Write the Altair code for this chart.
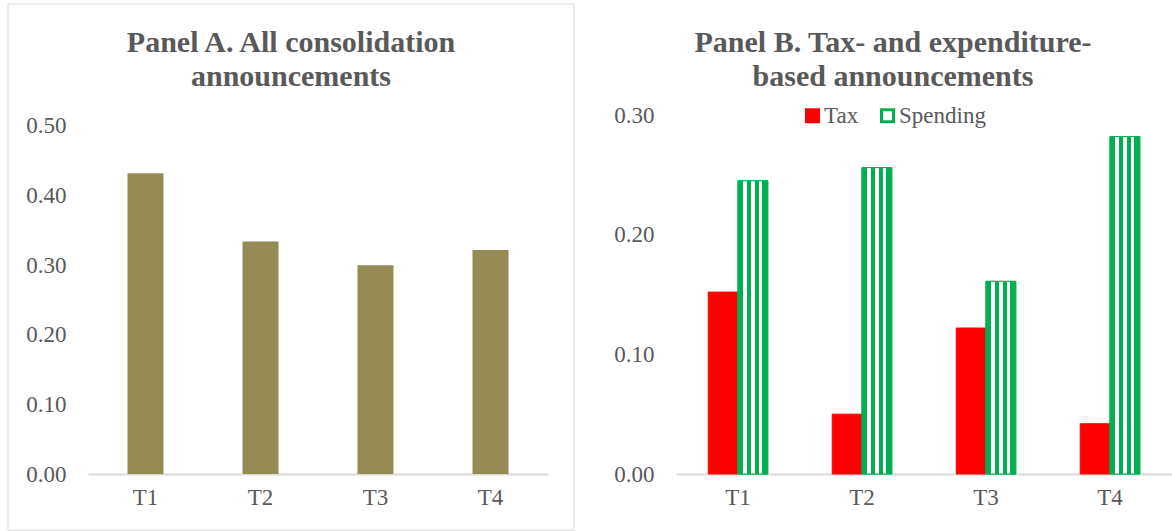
import altair as alt
import pandas as pd

# Quarters after the announcement
periods = ["T1", "T2", "T3", "T4"]

# Panel A: all consolidation announcements
all_announcements = [0.432, 0.334, 0.300, 0.322]

# Panel B: tax- vs expenditure-based announcements
series = ["Tax", "Spending"]
tax_values = [0.152, 0.050, 0.122, 0.042]
spending_values = [0.245, 0.256, 0.161, 0.282]

FONT = "Liberation Serif"
TEXT_GREY = "#595959"
AXIS_GREY = "#d9d9d9"
OLIVE = "#948a54"
RED = "#ff0000"
GREEN = "#00b050"

PLOT_H = 359
A_W = 460
B_W = 496

df_a = pd.DataFrame({"period": periods, "value": all_announcements})
df_b = pd.DataFrame(
    {
        "period": periods * 2,
        "series": ["Tax"] * len(periods) + ["Spending"] * len(periods),
        "value": tax_values + spending_values,
    }
)
one_row = pd.DataFrame({"k": [0]})

x_axis = alt.Axis(
    title=None,
    labelAngle=0,
    labelFont=FONT,
    labelFontSize=23,
    labelColor=TEXT_GREY,
    labelPadding=12,
    ticks=False,
    tickSize=0,
    domain=True,
    domainColor=AXIS_GREY,
    domainWidth=2,
    grid=False,
)


def y_axis(tick_values):
    return alt.Axis(
        title=None,
        values=tick_values,
        format=".2f",
        labelFont=FONT,
        labelFontSize=23,
        labelColor=TEXT_GREY,
        labelPadding=22,
        labelFlush=False,
        labelOverlap=False,
        ticks=False,
        tickSize=0,
        domain=False,
        grid=False,
    )


def title_text(lines, cx):
    return (
        alt.Chart(one_row)
        .mark_text(
            text=lines,
            font=FONT,
            fontSize=30,
            fontWeight="bold",
            color=TEXT_GREY,
            align="center",
            baseline="alphabetic",
            lineHeight=34,
        )
        .encode(x=alt.value(cx), y=alt.value(-63))
    )


# ---- Panel A ----
a_bars = (
    alt.Chart(df_a)
    .mark_bar(color=OLIVE)
    .encode(
        x=alt.X(
            "period:N",
            sort=periods,
            scale=alt.Scale(paddingInner=0.687, paddingOuter=0.3435),
            axis=x_axis,
        ),
        y=alt.Y(
            "value:Q",
            scale=alt.Scale(domain=[0, 0.5158], nice=False),
            axis=y_axis([0, 0.1, 0.2, 0.3, 0.4, 0.5]),
        ),
    )
)

a_frame = (
    alt.Chart(one_row)
    .mark_rect(fillOpacity=0, stroke=AXIS_GREY, strokeWidth=1)
    .encode(
        x=alt.value(-80),
        x2=alt.value(486),
        y=alt.value(-111),
        y2=alt.value(415),
    )
)

panel_a = alt.layer(
    a_frame,
    a_bars,
    title_text(["Panel A. All consolidation", "announcements"], 203),
).properties(width=A_W, height=PLOT_H)

# ---- Panel B ----
stripes = {
    "gradient": "linear",
    "x1": 0,
    "x2": 1,
    "y1": 0,
    "y2": 0,
    "stops": [
        {"offset": 0.0, "color": GREEN},
        {"offset": 0.175, "color": GREEN},
        {"offset": 0.175, "color": "#ffffff"},
        {"offset": 0.31, "color": "#ffffff"},
        {"offset": 0.31, "color": GREEN},
        {"offset": 0.43, "color": GREEN},
        {"offset": 0.43, "color": "#ffffff"},
        {"offset": 0.57, "color": "#ffffff"},
        {"offset": 0.57, "color": GREEN},
        {"offset": 0.69, "color": GREEN},
        {"offset": 0.69, "color": "#ffffff"},
        {"offset": 0.81, "color": "#ffffff"},
        {"offset": 0.81, "color": GREEN},
        {"offset": 1.0, "color": GREEN},
    ],
}

legend_b = alt.Legend(
    title=None,
    orient="none",
    legendX=125,
    legendY=-11,
    direction="horizontal",
    symbolType="square",
    symbolSize=144,
    symbolStrokeWidth=3,
    labelFont=FONT,
    labelFontSize=23,
    labelColor=TEXT_GREY,
    labelOffset=0,
    columnPadding=16,
    padding=0,
)

b_base = alt.Chart(df_b).encode(
    x=alt.X(
        "period:N",
        sort=periods,
        scale=alt.Scale(paddingInner=0.52, paddingOuter=0.26),
        axis=x_axis,
    ),
    xOffset=alt.XOffset(
        "series:N", sort=series, scale=alt.Scale(paddingInner=0, paddingOuter=0)
    ),
    y=alt.Y(
        "value:Q",
        scale=alt.Scale(domain=[0, 0.3], nice=False),
        axis=y_axis([0, 0.1, 0.2, 0.3]),
    ),
)

b_bars = b_base.mark_bar(strokeWidth=1).encode(
    fill=alt.Fill(
        "series:N",
        sort=series,
        scale=alt.Scale(domain=series, range=[RED, "#ffffff"]),
        legend=legend_b,
    ),
    stroke=alt.Stroke(
        "series:N",
        sort=series,
        scale=alt.Scale(domain=series, range=[RED, GREEN]),
        legend=legend_b,
    ),
)

b_stripes = b_base.transform_filter(alt.datum.series == "Spending").mark_bar(
    fill=stripes, stroke=GREEN, strokeWidth=1
)

panel_b = alt.layer(
    b_bars,
    b_stripes,
    title_text(["Panel B. Tax- and expenditure-", "based announcements"], 217),
).properties(width=B_W, height=PLOT_H)

chart = (
    alt.hconcat(panel_a, panel_b, spacing=38)
    .resolve_scale(fill="independent", stroke="independent")
    .resolve_legend(fill="independent", stroke="independent")
    .properties(padding={"left": 7, "top": 3, "right": 0, "bottom": 0})
    .configure_view(strokeWidth=0)
    .configure_legend(labelFont=FONT, labelFontSize=23, labelColor=TEXT_GREY)
)

chart.save("out.html", embed_options={"renderer": "svg", "actions": False})
